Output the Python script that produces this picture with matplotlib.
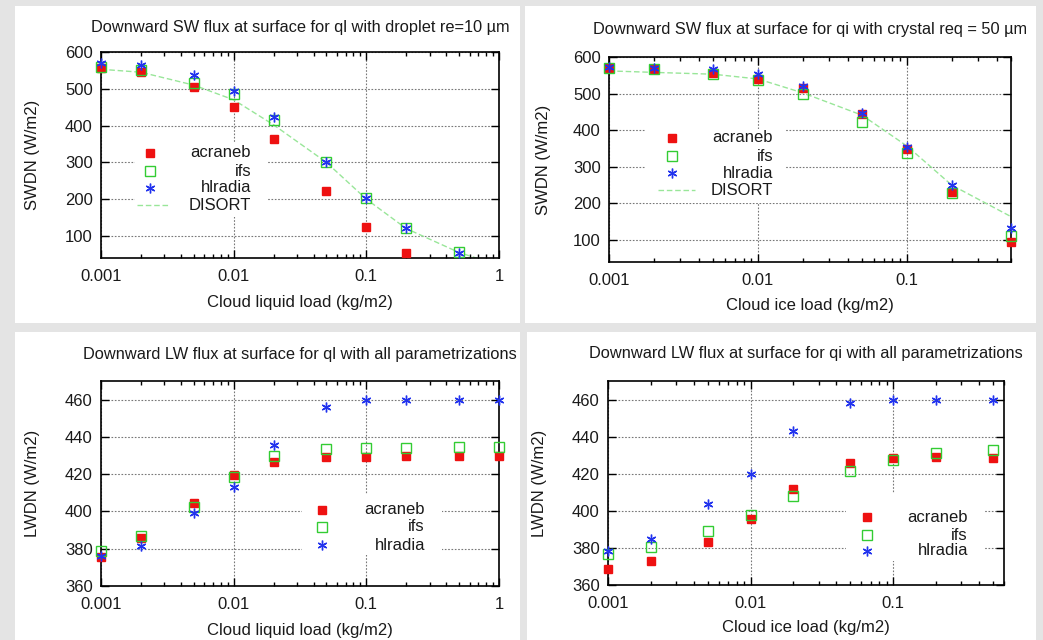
import matplotlib
matplotlib.use('Agg')
import matplotlib.pyplot as plt
from matplotlib.patches import Rectangle
from matplotlib.lines import Line2D
import matplotlib.ticker as mticker

plt.rcParams['font.family'] = ['Liberation Sans', 'DejaVu Sans']

# cloud loads (kg/m2)
q_x = [0.001, 0.002, 0.005, 0.01, 0.02, 0.05, 0.1, 0.2, 0.5]
q_x_long = [0.001, 0.002, 0.005, 0.01, 0.02, 0.05, 0.1, 0.2, 0.5, 1.0]

# SW, liquid (acraneb at 0.5 is below the plotted range)
sw_ql_acraneb = [556, 545, 504, 450, 363, 223, 125, 53, float('nan')]
sw_ql_ifs = [560, 550, 515, 485, 415, 300, 202, 122, 55]
sw_ql_hlradia = [569, 566, 537, 495, 424, 300, 202, 122, 53]
sw_ql_disort = [553, 545, 510, 470, 402, 300, 200, 120, 55, 20]

# SW, ice
sw_qi_acraneb = [571, 568, 555, 541, 516, 443, 349, 232, 94]
sw_qi_ifs = [570, 568, 553, 536, 500, 423, 337, 229, 110]
sw_qi_hlradia = [572, 570, 568, 553, 522, 446, 355, 250, 134]
sw_qi_disort = [562, 558, 553, 540, 502, 441, 357, 250, 164]

# LW, liquid
lw_ql_acraneb = [375.6, 386, 404.3, 419.4, 426.3, 429, 429, 429.5, 429.5, 430]
lw_ql_ifs = [379, 386.7, 402.5, 418.7, 429.5, 433.4, 434, 434, 434.5, 434.5]
lw_ql_hlradia = [376.3, 381.7, 399, 413.3, 435.6, 456, 459.6, 459.6, 459.6, 459.6]

# LW, ice
lw_qi_acraneb = [368.8, 373.1, 383.3, 395.8, 412, 425.8, 428.5, 429, 428.6]
lw_qi_ifs = [376.5, 380.3, 389.2, 398, 408, 421.3, 427.6, 431.3, 432.9]
lw_qi_hlradia = [378.3, 384.7, 403.5, 419.9, 442.8, 458.2, 459.8, 459.8, 459.5]

RED = '#ee1111'
GREEN = '#33cc33'
BLUE = '#2233ee'
DIS = '#99e699'
TXT = '#1a1a1a'

W, H = 1043, 640
fig = plt.figure(figsize=(W / 100, H / 100), dpi=100, facecolor='#e4e4e4')


def px_box(x0, y0, x1, y1):
    # pixel box (y from top) -> figure fraction [l, b, w, h]
    return [x0 / W, 1 - y1 / H, (x1 - x0) / W, (y1 - y0) / H]


for (x0, y0, x1, y1) in [(15, 6, 520, 323), (525, 6, 1036, 323),
                         (15, 332, 520, 640), (527, 332, 1036, 640)]:
    l, b, w, h = px_box(x0, y0, x1, y1)
    fig.add_artist(Rectangle((l, b), w, h, transform=fig.transFigure,
                             facecolor='white', edgecolor='none', zorder=0))


def setup(ax, xmax, ylim, yticks, xticks, title, ty, xlabel, xly, ylabel, ylx):
    ax.set_xscale('log')
    ax.set_xlim(0.001, xmax)
    ax.set_ylim(*ylim)
    ax.set_yticks(yticks)
    ax.set_xticks(xticks)
    ax.xaxis.set_major_formatter(mticker.FuncFormatter(lambda v, p: ('%g' % v)))
    ax.xaxis.set_minor_locator(mticker.LogLocator(base=10, subs=range(2, 10)))
    ax.xaxis.set_minor_formatter(mticker.NullFormatter())
    ax.tick_params(which='both', direction='in', top=True, right=True,
                   labelsize=12, width=1, labelcolor=TXT)
    ax.tick_params(which='major', length=6, pad=6)
    ax.tick_params(which='minor', length=3)
    ax.tick_params(axis='x', pad=8)
    for s in ax.spines.values():
        s.set_linewidth(1.2)
    ax.grid(True, which='major', color='#777777', linestyle=(0, (1.5, 1.5)), linewidth=0.8)
    ax.set_axisbelow(True)
    ax.text(0.5, ty, title, transform=ax.transAxes, ha='center', va='center',
            fontsize=11.8, color=TXT)
    ax.set_xlabel(xlabel, fontsize=12, color=TXT)
    ax.xaxis.set_label_coords(0.5, xly)
    ax.xaxis.label.set_va('center')
    ax.set_ylabel(ylabel, fontsize=12, color=TXT)
    ax.yaxis.set_label_coords(ylx, 0.5)
    ax.yaxis.label.set_va('center')


def points(ax, x, a, i, h):
    ax.plot(x, a, 's', color=RED, ms=6.3, clip_on=False, zorder=3)
    ax.plot(x, i, 's', mfc='none', mec=GREEN, mew=1.0, ms=6.8, clip_on=False, zorder=4)
    ax.plot(x, h, marker=(6, 2, 0), ls='none', color=BLUE, ms=7, mew=1.0,
            clip_on=False, zorder=5)


def legend(ax, box, mx, tx, rows, line=None):
    x0, y0, x1, y1 = box
    ax.add_patch(Rectangle((x0, y0), x1 - x0, y1 - y0, transform=ax.transAxes,
                           facecolor='white', edgecolor='none', zorder=1))
    names = ['acraneb', 'ifs', 'hlradia', 'DISORT']
    styles = [dict(marker='s', color=RED, ms=6.3),
              dict(marker='s', mfc='none', mec=GREEN, mew=1.0, ms=6.8),
              dict(marker=(6, 2, 0), color=BLUE, ms=7, mew=1.0)]
    for k, ry in enumerate(rows):
        if k < 3:
            ax.add_line(Line2D([mx], [ry], ls='none', transform=ax.transAxes,
                               zorder=3, **styles[k]))
        else:
            ax.add_line(Line2D([line[0], line[1]], [ry, ry], ls=(0, (4, 2)), lw=1,
                               color=DIS, transform=ax.transAxes, zorder=3))
        ax.text(tx, ry, names[k], transform=ax.transAxes, ha='right', va='center',
                fontsize=12, color=TXT, zorder=3)


# panel 1
ax1 = fig.add_axes(px_box(101, 52, 499, 258))
ax1.plot(q_x_long, sw_ql_disort, ls=(0, (4, 2)), lw=1, color=DIS, zorder=2)
points(ax1, q_x, sw_ql_acraneb, sw_ql_ifs, sw_ql_hlradia)
setup(ax1, 1, (40, 600), [100, 200, 300, 400, 500, 600], [0.001, 0.01, 0.1, 1],
      'Downward SW flux at surface for ql with droplet re=10 µm', 1.121,
      'Cloud liquid load (kg/m2)', -0.214, 'SWDN (W/m2)', -0.171)
legend(ax1, (0.085, 0.2, 0.42, 0.56), 0.123, 0.377, [0.51, 0.422, 0.34, 0.257], (0.09, 0.17))

# panel 2
ax2 = fig.add_axes(px_box(609, 57, 1011, 262))
ax2.plot(q_x, sw_qi_disort, ls=(0, (4, 2)), lw=1, color=DIS, zorder=2)
points(ax2, q_x, sw_qi_acraneb, sw_qi_ifs, sw_qi_hlradia)
setup(ax2, 0.5, (40, 600), [100, 200, 300, 400, 500, 600], [0.001, 0.01, 0.1],
      'Downward SW flux at surface for qi with crystal req = 50 µm', 1.132,
      'Cloud ice load (kg/m2)', -0.21, 'SWDN (W/m2)', -0.164)
legend(ax2, (0.09, 0.29, 0.44, 0.65), 0.157, 0.408, [0.605, 0.517, 0.434, 0.351], (0.122, 0.214))

# panel 3
ax3 = fig.add_axes(px_box(101, 381, 499, 586))
points(ax3, q_x_long, lw_ql_acraneb, lw_ql_ifs, lw_ql_hlradia)
setup(ax3, 1, (360, 470), [360, 380, 400, 420, 440, 460], [0.001, 0.01, 0.1, 1],
      'Downward LW flux at surface for ql with all parametrizations', 1.127,
      'Cloud liquid load (kg/m2)', -0.215, 'LWDN (W/m2)', -0.171)
legend(ax3, (0.505, 0.15, 0.857, 0.45), 0.555, 0.814, [0.371, 0.288, 0.2])

# panel 4
ax4 = fig.add_axes(px_box(608, 381, 1004, 585))
points(ax4, q_x, lw_qi_acraneb, lw_qi_ifs, lw_qi_hlradia)
setup(ax4, 0.6, (360, 470), [360, 380, 400, 420, 440, 460], [0.001, 0.01, 0.1],
      'Downward LW flux at surface for qi with all parametrizations', 1.137,
      'Cloud ice load (kg/m2)', -0.21, 'LWDN (W/m2)', -0.172)
legend(ax4, (0.6, 0.12, 0.95, 0.45), 0.654, 0.909, [0.333, 0.245, 0.167])

fig.savefig('out.png', dpi=100, facecolor=fig.get_facecolor())
